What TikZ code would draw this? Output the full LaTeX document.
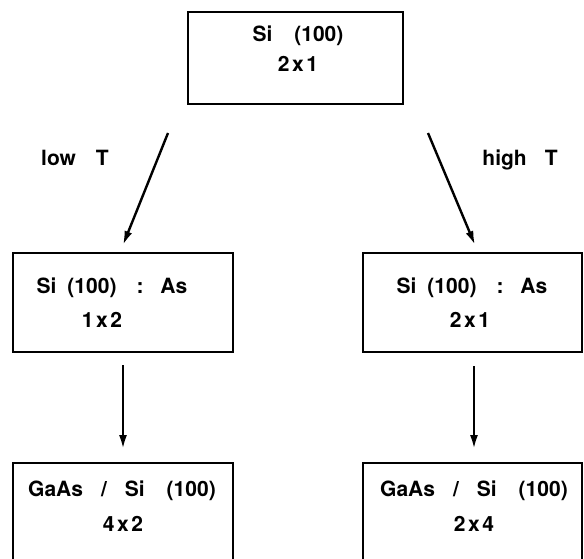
\documentclass[tikz,border=0pt]{standalone}
\usepackage{fontspec}
\setmainfont{TeX Gyre Heros}
\usetikzlibrary{arrows.meta}
\begin{document}
\begin{tikzpicture}[x=1pt,y=-1pt,
  box/.style={draw=black,line width=1.8pt,inner sep=0pt},
  lbl/.style={font=\fontsize{21}{25}\selectfont\bfseries,anchor=base,inner sep=0pt},
  arr/.style={line width=2.4pt,-{Latex[length=14pt,width=8pt]}}]
\useasboundingbox (0,0) rectangle (584,559);
\clip (0,0) rectangle (584,559);
% boxes
\node[box,minimum width=215pt,minimum height=92pt] (top) at (295.5,58) {};
\node[box,minimum width=220pt,minimum height=99pt] (ml) at (123,302.5) {};
\node[box,minimum width=219pt,minimum height=99pt] (mr) at (472.5,302.5) {};
\node[box,minimum width=220pt,minimum height=140pt] (bl) at (123,533) {};
\node[box,minimum width=219pt,minimum height=140pt] (br) at (472.5,533) {};
% texts
\node[lbl] (t1) at (298,42) {Si\hspace{22pt}(100)};
\node[lbl] (t2) at (298,72) {2\hspace{2.5pt}x\hspace{2.5pt}1};
\node[lbl] (lowT) at (75,166) {low\hspace{20pt}T};
\node[lbl] (highT) at (520,166) {high\hspace{18pt}T};
\node[lbl] (ml1) at (112,293) {Si\hspace{11pt}(100)\hspace{20pt}:\hspace{17pt}As};
\node[lbl] (ml2) at (102,327) {1\hspace{2.5pt}x\hspace{2.5pt}2};
\node[lbl] (mr1) at (472,293) {Si\hspace{11pt}(100)\hspace{20pt}:\hspace{17pt}As};
\node[lbl] (mr2) at (470,327) {2\hspace{2.5pt}x\hspace{2.5pt}1};
\node[lbl] (bl1) at (122,496) {GaAs\hspace{18pt}/\hspace{18pt}Si\hspace{22pt}(100)};
\node[lbl] (bl2) at (123,531) {4\hspace{2.5pt}x\hspace{2.5pt}2};
\node[lbl] (br1) at (474,496) {GaAs\hspace{18pt}/\hspace{18pt}Si\hspace{22pt}(100)};
\node[lbl] (br2) at (474,531) {2\hspace{2.5pt}x\hspace{2.5pt}4};
% arrow ends
\coordinate (a1s) at (168,133);
\coordinate (a1e) at (123,245);
\coordinate (a2s) at (428,133);
\coordinate (a2e) at (475,245);
\coordinate (a3s) at (123,365);
\coordinate (a3e) at (123,449);
\coordinate (a4s) at (474,366);
\coordinate (a4e) at (474,449);
\draw[arr] (a1s) -- (a1e);
\draw[arr] (a2s) -- (a2e);
\draw[arr] (a3s) -- (a3e);
\draw[arr] (a4s) -- (a4e);
\end{tikzpicture}
\end{document}
